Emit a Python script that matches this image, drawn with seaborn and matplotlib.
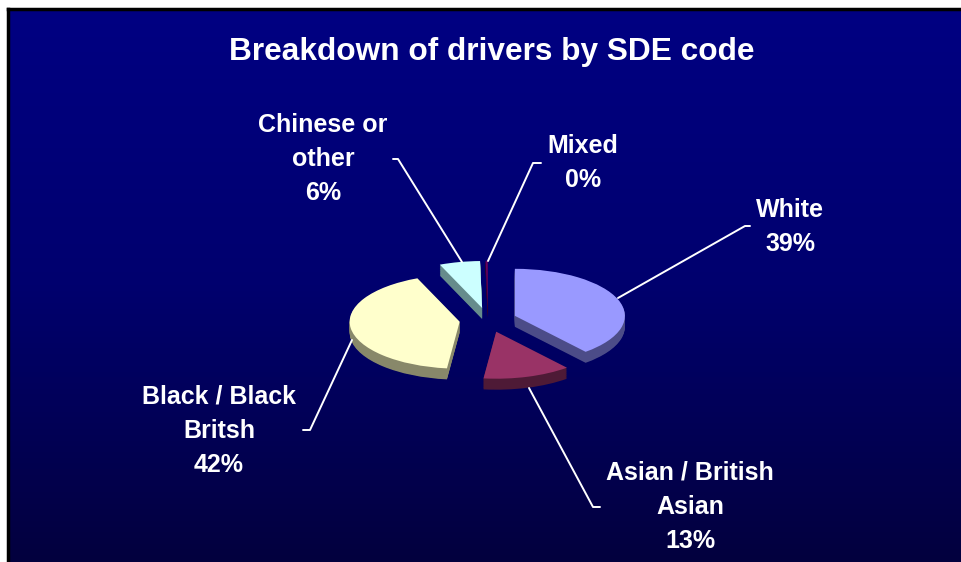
import matplotlib
matplotlib.use('Agg')
import matplotlib.pyplot as plt
import seaborn as sns
import numpy as np
from matplotlib.colors import LinearSegmentedColormap

sns.set_style('white')
plt.rcParams['font.family'] = ['Liberation Sans', 'DejaVu Sans']

# dados
categorias = ['White', 'Asian / British\nAsian', 'Black / Black\nBritsh', 'Chinese or\nother', 'Mixed']
percentuais = [39, 13, 42, 6, 0.3]
rotulos_pct = ['39%', '13%', '42%', '6%', '0%']
titulo = 'Breakdown of drivers by SDE code'

cores_topo = ['#9999ff', '#993366', '#ffffcc', '#ccffff', '#660066']
cores_lado = ['#4c4c88', '#4e1a36', '#88886a', '#668c8c', '#330033']

W, H = 962, 562
fig = plt.figure(figsize=(W / 100, H / 100), dpi=100)
fig.patch.set_facecolor('white')

# fundo com degrade
bg = fig.add_axes([8 / W, 0, 1 - 8 / W, 1 - 9 / H])
grad = np.linspace(0, 1, 256).reshape(-1, 1)
cmap = LinearSegmentedColormap.from_list('fundo', ['#000082', '#00006e', '#03003e'])
bg.imshow(grad, aspect='auto', cmap=cmap, extent=(0, 1, 0, 1), origin='upper')
bg.set_xticks([])
bg.set_yticks([])
for s in ['right', 'bottom']:
    bg.spines[s].set_visible(False)
for s in ['top', 'left']:
    bg.spines[s].set_color('black')
    bg.spines[s].set_linewidth(2.5)

# pizza 3D (camadas)
cx, cy = 488, 320
rx, ry = 110, 47
ax = fig.add_axes([0, 0, 1, 1])
ax.patch.set_alpha(0)
profundidade = 11 / ry
n_camadas = 16
for k in range(n_camadas, 0, -1):
    dy = -profundidade * k / n_camadas
    ax.pie(percentuais, colors=cores_lado, startangle=90, counterclock=False,
           explode=[0.26] * 5, center=(0, dy), wedgeprops={'linewidth': 0},
           frame=True)
ax.pie(percentuais, colors=cores_topo, startangle=90, counterclock=False,
       explode=[0.26] * 5, center=(0, 0), wedgeprops={'linewidth': 0}, frame=True)
ax.set_aspect('auto')
ax.set_xlim(-cx / rx, (W - cx) / rx)
ax.set_ylim(-(H - cy) / ry, cy / ry)
ax.axis('off')

# textos e linhas
ov = fig.add_axes([0, 0, 1, 1])
ov.patch.set_alpha(0)
ov.set_xlim(0, W)
ov.set_ylim(H, 0)
ov.axis('off')

ov.text(492, 60, titulo, color='white', fontsize=22.8, fontweight='bold',
        ha='center', va='baseline')

pos_rotulo = [(790, 217), (690, 480), (219, 404), (323, 132), (583, 153)]
linhas_guia = [
    [(618, 298), (745, 226), (750, 226)],
    [(529, 388), (593, 507), (600, 507)],
    [(352, 340), (310, 430), (303, 430)],
    [(462, 262), (398, 159), (393, 159)],
    [(488, 261), (533, 163), (541, 163)],
]

for nome, pct, (tx, ty), guia in zip(categorias, rotulos_pct, pos_rotulo, linhas_guia):
    linhas = nome.split('\n') + [pct]
    for i, l in enumerate(linhas):
        ov.text(tx, ty + i * 34, l, color='white', fontsize=18, fontweight='bold',
                ha='center', va='baseline')
    xs, ys = zip(*guia)
    ov.plot(xs, ys, color='white', lw=1.4)

fig.savefig('out.png', dpi=100, facecolor='white')
